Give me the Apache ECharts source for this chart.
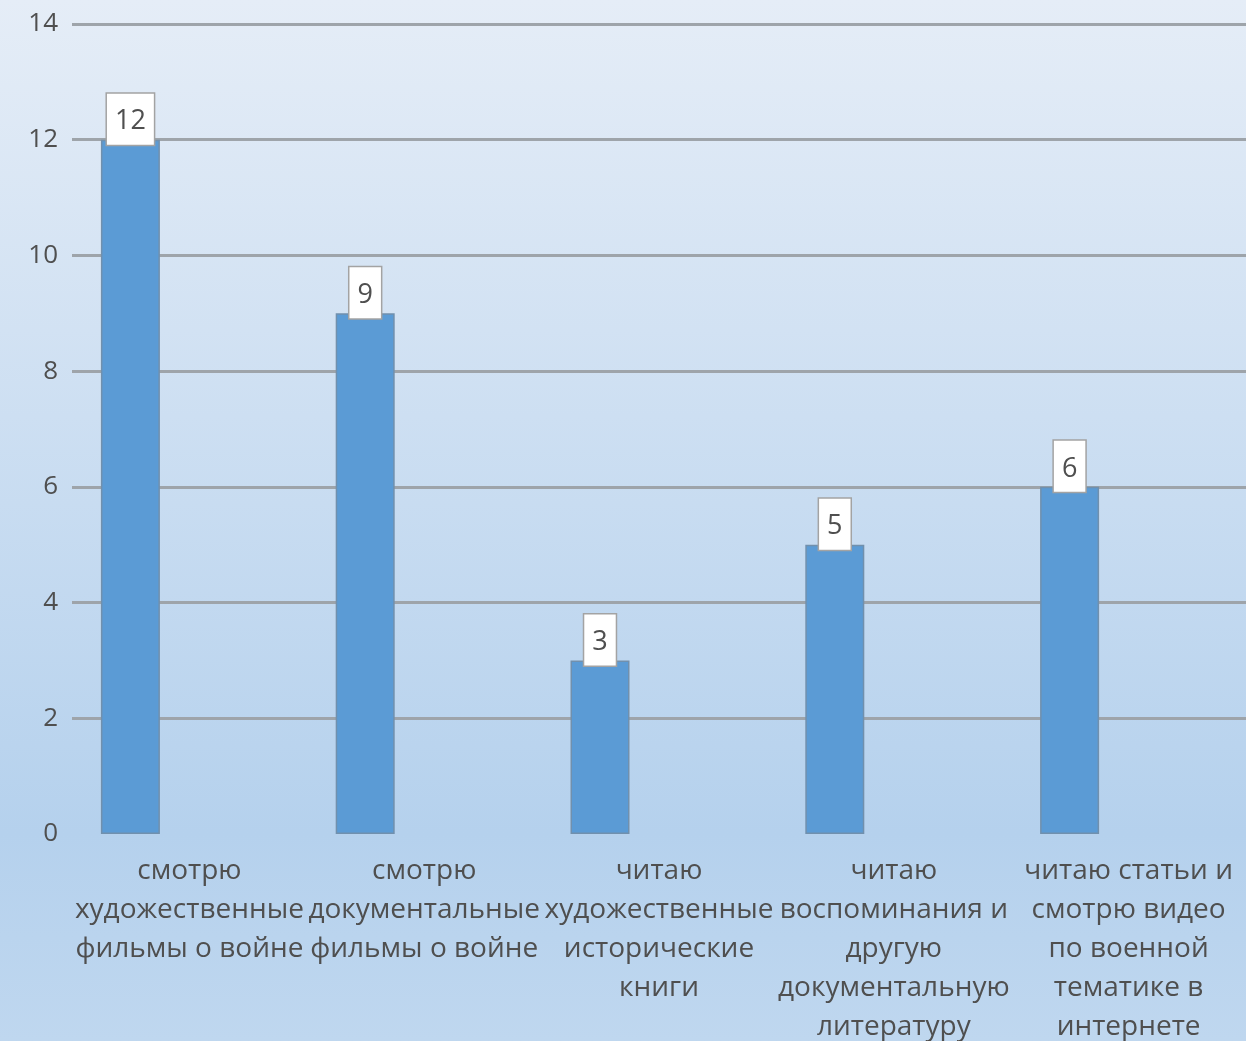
<!DOCTYPE html>
<html><head><meta charset="utf-8">
<style>html,body{margin:0;padding:0;}#c{width:1246px;height:1041px;}</style>
<script src="https://cdn.jsdelivr.net/npm/echarts@6/dist/echarts.min.js"></script>
</head><body><div id="c"></div>
<script>
const categories = [
  "смотрю\nхудожественные\nфильмы о войне",
  "смотрю\nдокументальные\nфильмы о войне",
  "читаю\nхудожественные\nисторические\nкниги",
  "читаю\nвоспоминания и\nдругую\nдокументальную\nлитературу",
  "читаю статьи и\nсмотрю видео\nпо военной\nтематике в\nинтернете"
];
const values = [12, 9, 3, 5, 6];
const emptySeries = [null, null, null, null, null];
const yMin = 0, yMax = 14, yStep = 2;

const chart = echarts.init(document.getElementById('c'));
const font = '"Open Sans", "DejaVu Sans", sans-serif';
chart.setOption({
  backgroundColor: new echarts.graphic.LinearGradient(0, 0, 0, 1, [
    {offset: 0, color: '#e5edf7'},
    {offset: 0.8, color: '#b5d1ed'},
    {offset: 1, color: '#bfd7ef'}
  ]),
  animation: false,
  grid: {left: 72, right: 0, top: 24, bottom: 207, containLabel: false, outerBoundsMode: 'none'},
  xAxis: {
    type: 'category', data: categories,
    axisLine: {show: false}, axisTick: {show: false},
    axisLabel: {interval: 0, margin: 18, color: '#4f4f4f', fontSize: 28, lineHeight: 39, fontFamily: font}
  },
  yAxis: {
    type: 'value', min: yMin, max: yMax, interval: yStep,
    axisLine: {show: false}, axisTick: {show: false},
    axisLabel: {margin: 14, color: '#4f4f4f', fontSize: 26, fontFamily: font},
    splitLine: {show: true, showMinLine: false, lineStyle: {color: '#9ea4aa', width: 3}}
  },
  series: [
    {
      type: 'bar', data: values, barWidth: 59, barGap: '100%',
      itemStyle: {color: '#5b9bd5', borderColor: '#7190ad', borderWidth: 1.5},
      label: {
        show: true, position: 'top', distance: -5,
        color: '#4f4f4f', fontSize: 27, fontFamily: font,
        backgroundColor: '#ffffff', borderColor: '#a3a3a3', borderWidth: 1.5,
        padding: [13, 8, 8, 8], lineHeight: 30
      },
      z: 3
    },
    {type: 'bar', data: emptySeries, barWidth: 59}
  ]
});
</script></body></html>
